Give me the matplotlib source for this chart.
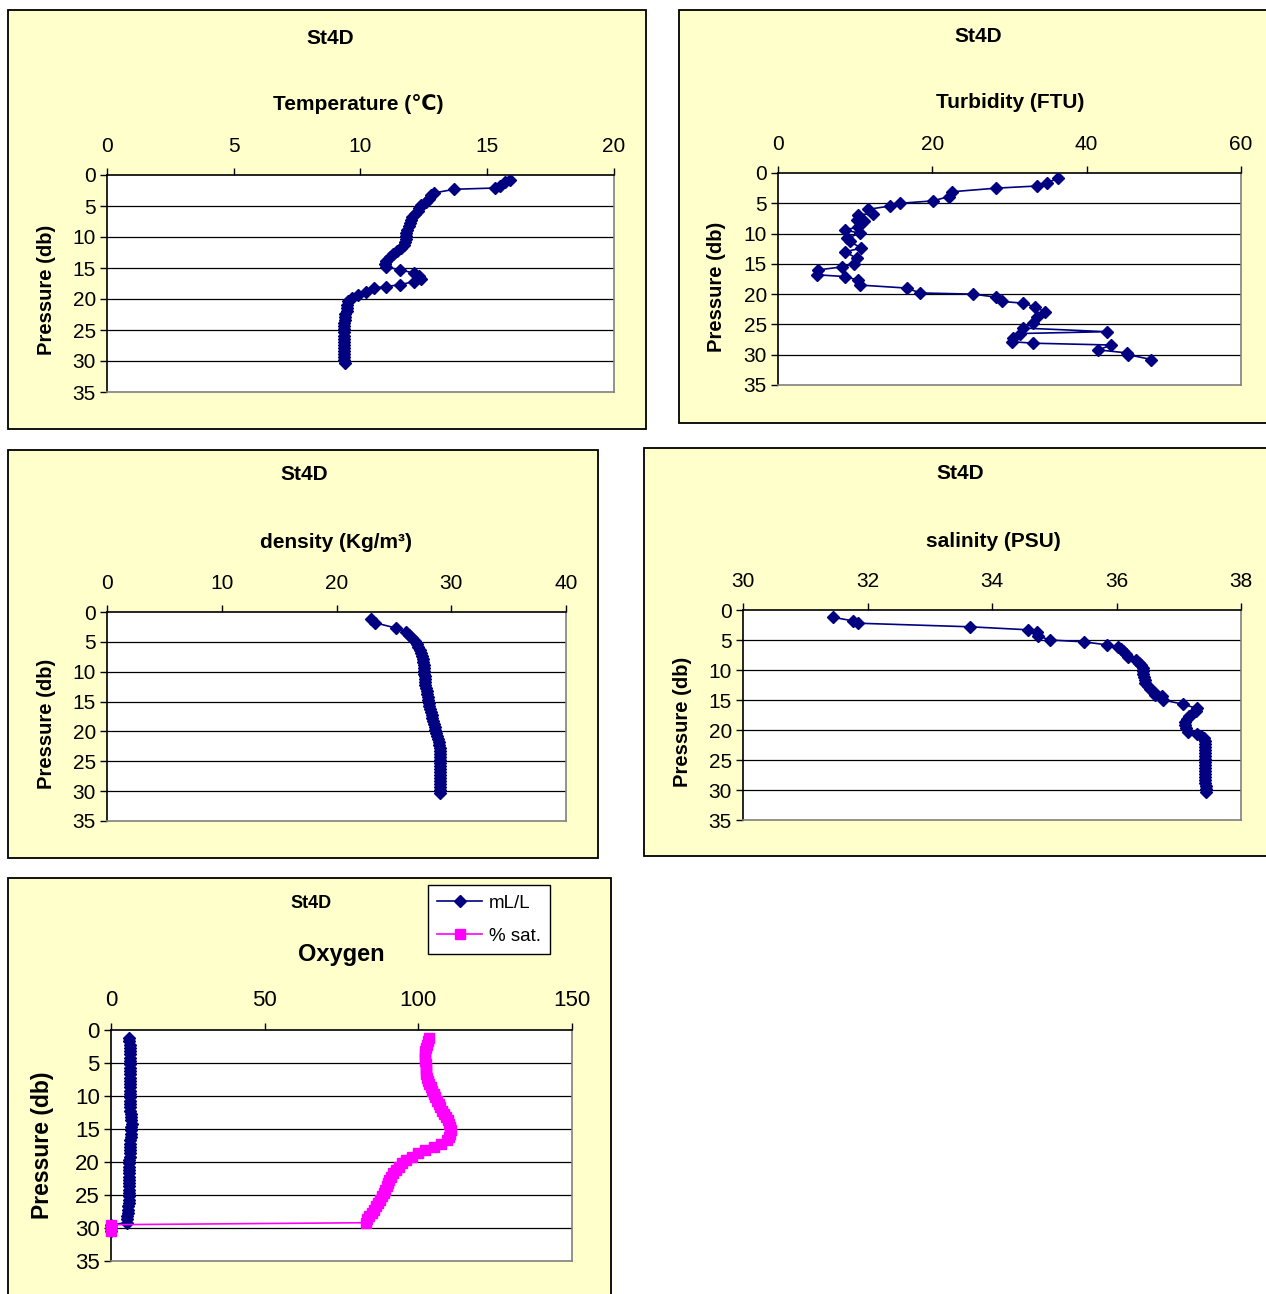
import numpy as np
import matplotlib
matplotlib.use('Agg')
import matplotlib.pyplot as plt
from matplotlib.patches import Rectangle

plt.rcParams['font.family'] = ['Liberation Sans', 'DejaVu Sans']

# ---- data (pressure in db) ----
temp_p = [0.8, 1.2, 1.8, 2.1, 2.3, 2.9, 3.3, 3.8, 4.3, 4.8,
          5.3, 5.8, 6.3, 6.8, 7.3, 7.8, 8.3, 8.8, 9.3, 9.8,
          10.3, 10.8, 11.3, 11.8, 12.3, 12.8, 13.3, 13.8, 14.3, 14.8,
          15.3, 15.8, 16.3, 16.7, 17.2, 17.7, 18.0, 18.2, 18.8, 19.4,
          19.9, 20.4, 20.9, 21.4, 21.9, 22.4, 22.9, 23.4, 23.9, 24.4,
          24.9, 25.4, 25.9, 26.4, 26.9, 27.4, 27.9, 28.4, 28.9, 29.4,
          29.9, 30.4]
temp_v = [15.9, 15.7, 15.5, 15.3, 13.7, 12.9, 12.8, 12.7, 12.6, 12.4,
          12.3, 12.25, 12.15, 12.05, 12.0, 11.95, 11.9, 11.85, 11.8, 11.8,
          11.8, 11.75, 11.7, 11.6, 11.45, 11.3, 11.15, 11.0, 10.95, 11.0,
          11.55, 12.1, 12.3, 12.4, 12.1, 11.55, 11.0, 10.55, 10.2, 9.9,
          9.65, 9.5, 9.45, 9.45, 9.45, 9.4, 9.4, 9.4, 9.35, 9.35,
          9.35, 9.35, 9.35, 9.35, 9.35, 9.35, 9.35, 9.35, 9.35, 9.35,
          9.35, 9.4]

turb_p = [0.9, 1.6, 2.15, 2.5, 3.1, 3.9, 4.6, 5.0, 5.45, 6.0,
          6.7, 6.9, 7.8, 8.0, 8.9, 9.4, 9.95, 10.8, 11.3, 12.4,
          13.0, 14.1, 15.0, 15.5, 16.0, 16.8, 17.1, 17.7, 18.5, 19.0,
          19.8, 20.0, 20.5, 21.2, 21.5, 22.1, 22.9, 23.7, 24.8, 25.6,
          26.2, 26.5, 27.3, 27.85, 28.1, 28.4, 29.2, 29.7, 30.0, 30.8]
turb_v = [36.3, 34.8, 33.5, 28.3, 22.5, 22.1, 20.1, 15.8, 14.5, 11.7,
          12.3, 10.4, 10.2, 11.1, 10.4, 8.7, 10.6, 8.9, 9.3, 10.8,
          8.7, 10.2, 9.8, 8.3, 5.2, 5.0, 8.7, 10.4, 10.6, 16.7,
          18.4, 25.3, 28.3, 29.0, 31.8, 33.3, 34.6, 33.5, 33.1, 31.8,
          42.6, 31.4, 30.5, 30.3, 33.1, 43.2, 41.5, 45.2, 45.4, 48.4]

dens_p = [1.2, 1.8, 2.7, 3.3, 3.8, 4.3, 4.8, 5.3, 5.8, 6.3,
          6.8, 7.3, 7.8, 8.3, 8.8, 9.3, 9.8, 10.3, 10.8, 11.3,
          11.8, 12.3, 12.8, 13.3, 13.8, 14.3, 14.8, 15.3, 15.8, 16.3,
          16.8, 17.3, 17.8, 18.3, 18.8, 19.3, 19.8, 20.3, 20.8, 21.3,
          21.8, 22.3, 22.8, 23.3, 23.8, 24.3, 24.8, 25.3, 25.8, 26.3,
          26.8, 27.3, 27.8, 28.3, 28.8, 29.3, 29.8, 30.3]
dens_v = [23.05, 23.35, 25.2, 26.1, 26.3, 26.6, 26.8, 27.0, 27.1, 27.25,
          27.35, 27.45, 27.5, 27.55, 27.6, 27.6, 27.65, 27.65, 27.7, 27.7,
          27.75, 27.75, 27.8, 27.85, 27.9, 27.95, 28.0, 28.05, 28.1, 28.15,
          28.2, 28.3, 28.35, 28.4, 28.5, 28.55, 28.6, 28.7, 28.8, 28.85,
          28.9, 28.95, 29.0, 29.0, 29.05, 29.05, 29.05, 29.05, 29.05, 29.05,
          29.05, 29.05, 29.0, 29.0, 29.0, 29.0, 29.0, 29.0]

sal_p = [1.2, 1.8, 2.2, 2.8, 3.3, 3.7, 4.3, 5.0, 5.3, 5.8,
         6.1, 6.5, 6.9, 7.4, 7.8, 8.3, 8.8, 9.2, 9.7, 10.2,
         10.6, 11.1, 11.6, 12.2, 12.7, 13.2, 13.6, 14.2, 14.4, 15.0,
         15.7, 16.4, 16.8, 17.2, 17.7, 18.1, 18.6, 19.2, 19.7, 20.3,
         20.6, 21.0, 21.4, 21.9, 22.4, 22.9, 23.4, 23.9, 24.4, 24.9,
         25.4, 25.9, 26.4, 26.9, 27.4, 27.9, 28.4, 28.9, 29.4, 29.9,
         30.4]
sal_v = [31.44, 31.76, 31.84, 33.65, 34.58, 34.72, 34.74, 34.93, 35.47, 35.84,
         36.03, 36.08, 36.11, 36.15, 36.19, 36.32, 36.36, 36.4, 36.42, 36.43,
         36.43, 36.44, 36.45, 36.46, 36.5, 36.54, 36.6, 36.62, 36.73, 36.75,
         37.07, 37.29, 37.27, 37.23, 37.17, 37.13, 37.1, 37.1, 37.12, 37.15,
         37.29, 37.35, 37.4, 37.42, 37.42, 37.42, 37.42, 37.42, 37.42, 37.42,
         37.42, 37.42, 37.42, 37.42, 37.42, 37.42, 37.42, 37.42, 37.43, 37.43,
         37.43]

ox_p = [1.2, 1.7, 2.2, 2.7, 3.2, 3.7, 4.2, 4.7, 5.2, 5.7,
        6.2, 6.7, 7.2, 7.7, 8.2, 8.7, 9.2, 9.7, 10.2, 10.7,
        11.2, 11.7, 12.2, 12.7, 13.2, 13.7, 14.2, 14.7, 15.2, 15.7,
        16.2, 16.7, 17.2, 17.7, 18.2, 18.7, 19.2, 19.7, 20.2, 20.7,
        21.2, 21.7, 22.2, 22.7, 23.2, 23.7, 24.2, 24.7, 25.2, 25.7,
        26.2, 26.7, 27.2, 27.7, 28.2, 28.7, 29.2, 29.5, 30.0, 30.4]
ox_ml = [6.0, 6.0, 6.1, 6.1, 6.2, 6.2, 6.3, 6.3, 6.3, 6.3,
         6.3, 6.3, 6.3, 6.3, 6.3, 6.3, 6.3, 6.3, 6.3, 6.3,
         6.3, 6.3, 6.3, 6.4, 6.5, 6.6, 6.7, 6.6, 6.5, 6.4,
         6.4, 6.3, 6.3, 6.3, 6.3, 6.2, 6.1, 6.0, 5.9, 5.8,
         5.8, 5.8, 5.8, 5.8, 5.8, 5.8, 5.8, 5.8, 5.8, 5.7,
         5.7, 5.6, 5.5, 5.4, 5.3, 5.3, 5.2, 0.1, 0.0, 0.0]
ox_sat = [103.5, 103.0, 102.7, 102.5, 102.3, 102.3, 102.3, 102.3, 102.4, 102.5,
          102.5, 102.6, 102.8, 103.0, 103.5, 104.0, 104.5, 105.0, 105.5, 106.0,
          106.6, 107.2, 107.8, 108.4, 109.0, 109.6, 110.1, 110.4, 110.5, 110.4,
          110.0, 109.2, 107.5, 105.0, 102.3, 100.0, 97.8, 96.0, 94.6, 93.6,
          92.7, 91.9, 91.2, 90.6, 90.1, 89.7, 89.2, 88.7, 88.1, 87.5,
          87.0, 86.3, 85.6, 84.8, 84.0, 83.3, 83.0, 0.0, 0.0, 0.0]

W, H = 1266, 1294
NAVY = '#000080'
PINK = '#FF00FF'
YELLOW = '#FFFFCC'
MS = 6.5

fig = plt.figure(figsize=(W / 100, H / 100), dpi=100, facecolor='white')


def fx(x):
    return x / W


def fy(y):
    return 1 - y / H


def chart_box(x0, y0, x1, y1):
    fig.patches.append(Rectangle((fx(x0), fy(y1)), fx(x1) - fx(x0), fy(y0) - fy(y1),
                                 transform=fig.transFigure, facecolor=YELLOW,
                                 edgecolor='black', lw=1.3, zorder=-10))


def profile_axes(box, xlim, xticks, tick_fs=15):
    x0, y0, x1, y1 = box
    ax = fig.add_axes([fx(x0), fy(y1), fx(x1) - fx(x0), fy(y0) - fy(y1)])
    ax.set_facecolor('white')
    ax.set_xlim(*xlim)
    ax.set_ylim(35, 0)
    ax.set_xticks(xticks)
    ax.set_yticks(range(0, 36, 5))
    ax.xaxis.tick_top()
    ax.tick_params(axis='x', direction='out', length=5, width=1, pad=9,
                   labelsize=tick_fs, top=True, bottom=False)
    ax.tick_params(axis='y', direction='out', length=5, width=1, pad=3,
                   labelsize=tick_fs)
    for y in range(5, 35, 5):
        ax.axhline(y, color='black', lw=0.9, zorder=1)
    ax.spines['left'].set_color('black')
    ax.spines['top'].set_color('black')
    ax.spines['right'].set_color('#808080')
    ax.spines['bottom'].set_color('#808080')
    for s in ax.spines.values():
        s.set_linewidth(1.2)
    return ax


def label(x, y, txt, size, rot=0, weight='bold'):
    fig.text(fx(x), fy(y), txt, ha='center', va='center', fontsize=size,
             fontweight=weight, rotation=rot)


# background chart areas
chart_box(8, 10, 646, 429)
chart_box(679, 10, 1275, 423)
chart_box(8, 450, 598, 858)
chart_box(644, 448, 1275, 856)
chart_box(8, 878, 611, 1300)

# Temperature
ax1 = profile_axes((107, 175, 614, 392), (0, 20), [0, 5, 10, 15, 20])
ax1.plot(temp_v, temp_p, color=NAVY, lw=1.2, marker='D', ms=MS, zorder=3)
label(330, 38, 'St4D', 15)
label(358, 104, 'Temperature (\u2103)', 15)
label(46, 290, 'Pressure (db)', 14.5, rot=90)

# Turbidity
ax2 = profile_axes((778, 173, 1241, 385), (0, 60), [0, 20, 40, 60])
ax2.plot(turb_v, turb_p, color=NAVY, lw=1.2, marker='D', ms=MS, zorder=3)
label(978, 36, 'St4D', 15)
label(1010, 102, 'Turbidity (FTU)', 15)
label(716, 287, 'Pressure (db)', 14.5, rot=90)

# Density
ax3 = profile_axes((107, 612, 566, 821), (0, 40), [0, 10, 20, 30, 40])
ax3.plot(dens_v, dens_p, color=NAVY, lw=1.2, marker='D', ms=MS, zorder=3)
label(304, 474, 'St4D', 15)
label(336, 543, 'density (Kg/m\u00b3)', 15)
label(46, 724, 'Pressure (db)', 14.5, rot=90)

# Salinity
ax4 = profile_axes((743, 610, 1241, 820), (30, 38), [30, 32, 34, 36, 38])
ax4.plot(sal_v, sal_p, color=NAVY, lw=1.2, marker='D', ms=MS, zorder=3)
label(960, 473, 'St4D', 15)
label(993, 541, 'salinity (PSU)', 15)
label(683, 722, 'Pressure (db)', 14.5, rot=90)

# Oxygen
ax5 = profile_axes((111, 1030, 572, 1261), (0, 150), [0, 50, 100, 150], tick_fs=16)
ax5.plot(ox_ml, ox_p, color=NAVY, lw=1.2, marker='D', ms=MS, zorder=3,
         label='mL/L', clip_on=False)
ax5.plot(ox_sat, ox_p, color=PINK, lw=1.2, marker='s', ms=6.5, zorder=4,
         label='% sat.', clip_on=False)
label(311, 903, 'St4D', 13)
label(341, 954, 'Oxygen', 17)
label(43, 1145, 'Pressure (db)', 16.5, rot=90)
leg = ax5.legend(loc='upper left', bbox_to_anchor=(fx(428), fy(885)),
                 bbox_transform=fig.transFigure, borderaxespad=0, fontsize=13.5,
                 frameon=True, fancybox=False, framealpha=1, edgecolor='black',
                 handlelength=2.4, handletextpad=0.35, labelspacing=0.85,
                 borderpad=0.5)
leg.get_frame().set_linewidth(1.0)

fig.savefig('out.png', dpi=100, facecolor='white')
